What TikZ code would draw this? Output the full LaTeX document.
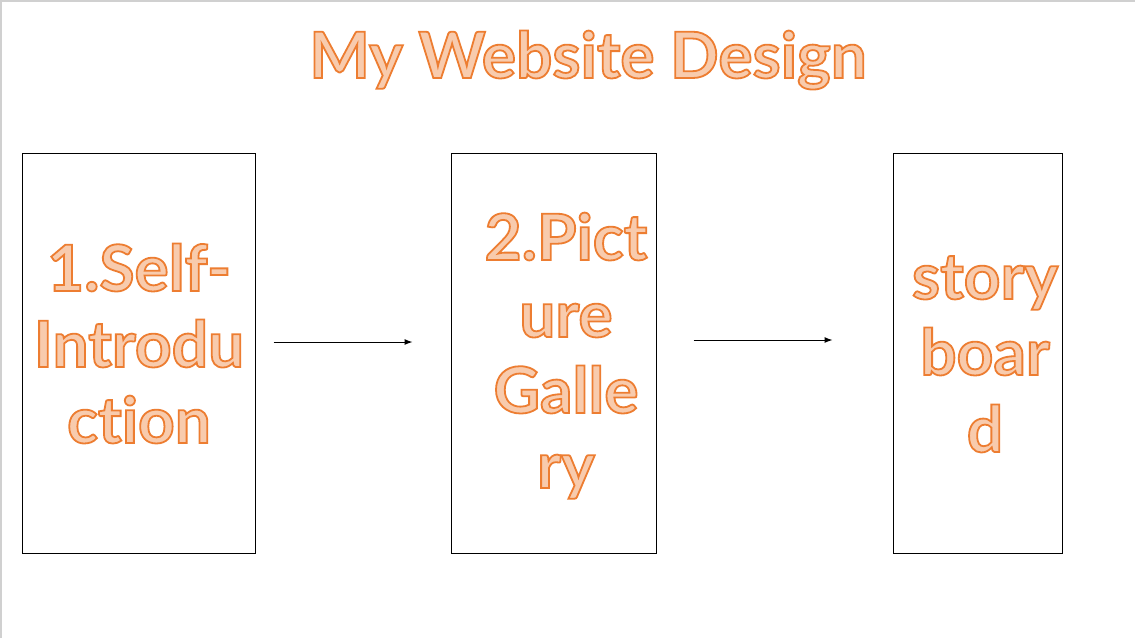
\documentclass[tikz,border=0pt]{standalone}
\usepackage{fontspec}
\setmainfont[Ligatures=NoCommon]{Lato}
\usetikzlibrary{arrows.meta}
\definecolor{orfill}{HTML}{F8CBAD}
\definecolor{orline}{HTML}{ED7D31}
\definecolor{frame}{HTML}{D0D0D0}
\newcommand{\outl}[1]{{\color{orfill}\special{pdf:code 2 Tr 1.8 w 0.929 0.490 0.192 RG}#1\special{pdf:code 0 Tr 0.4 w}}}
\tikzset{
  box/.style={draw=black, line width=1pt, fill=none, inner sep=0pt},
  word/.style={anchor=base, inner sep=0pt, font=\fontsize{64}{76}\selectfont\bfseries},
  ttl/.style={anchor=base, inner sep=0pt, font=\fontsize{64}{76}\selectfont\bfseries},
  arr/.style={draw=black, line width=1pt, -{Latex[length=8pt,width=6pt]}},
}
\begin{document}
\begin{tikzpicture}[x=1pt,y=-1pt]
\useasboundingbox (0,0) rectangle (1135,638);
\fill[white] (0,0) rectangle (1135,638);
\draw[frame, line width=2pt] (1,638) -- (1,1) -- (1135,1);
% boxes
\node[box, minimum width=233pt, minimum height=400pt] (b1) at (138.5,353) {};
\node[box, minimum width=205pt, minimum height=400pt] (b2) at (553.5,353) {};
\node[box, minimum width=169pt, minimum height=400pt] (b3) at (977.5,353) {};
% arrows
\draw[arr] ([xshift=18pt,yshift=11pt]b1.east) -- ([xshift=-38pt,yshift=11pt]b2.west);
\draw[arr] ([xshift=37pt,yshift=13pt]b2.east) -- ([xshift=-60pt,yshift=13pt]b3.west);
% title
\node[ttl] (title) at (588,78) {\outl{My Website Design}};
% box 1 text
\node[word] (t11) at (139,291) {\outl{1.Self-}};
\node[word] (t12) at (139,367) {\outl{Introdu}};
\node[word] (t13) at (139,443) {\outl{ction}};
% box 2 text
\node[word] (t21) at (566,260) {\outl{2.Pict}};
\node[word] (t22) at (566,337) {\outl{ure}};
\node[word] (t23) at (566,413) {\outl{Galle}};
\node[word] (t24) at (566,488) {\outl{ry}};
% box 3 text
\node[word] (t31) at (985,299) {\outl{story}};
\node[word] (t32) at (985,375) {\outl{boar}};
\node[word] (t33) at (985,452) {\outl{d}};
\end{tikzpicture}
\end{document}
